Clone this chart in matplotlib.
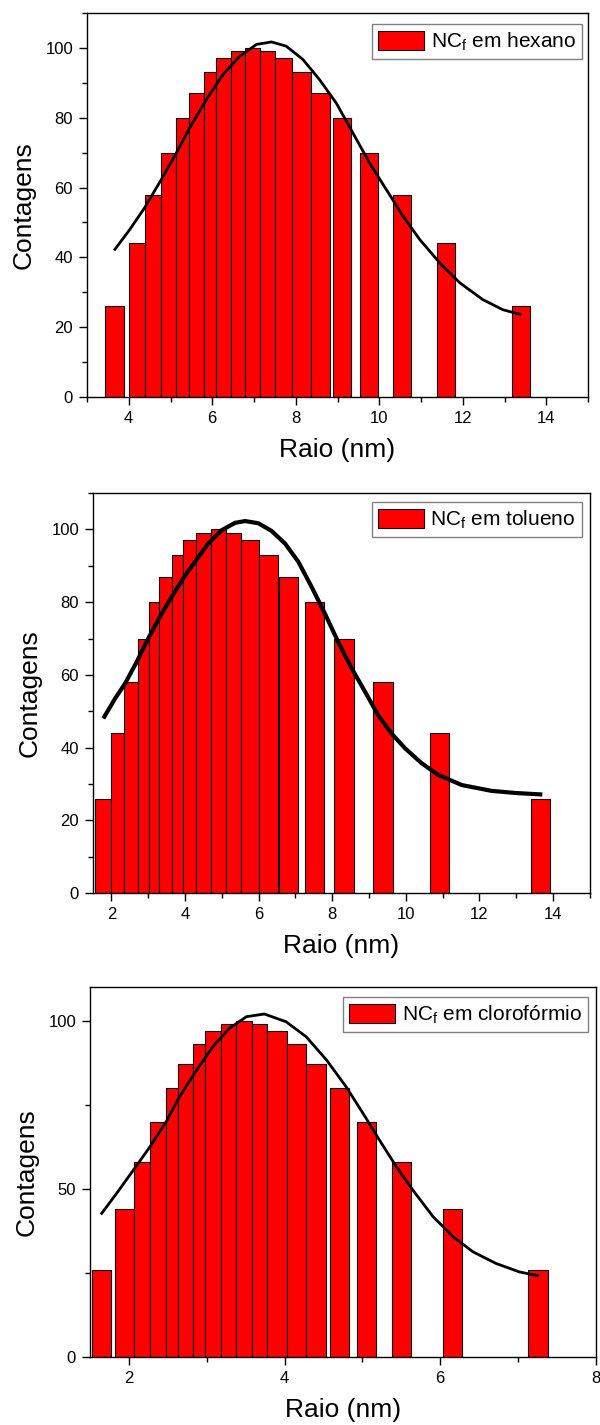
import numpy as np
import matplotlib
matplotlib.use("Agg")
import matplotlib.pyplot as plt
from matplotlib.ticker import MultipleLocator

plt.rcParams['font.family'] = ['Liberation Sans', 'DejaVu Sans']
plt.rcParams['mathtext.fontset'] = 'custom'
plt.rcParams['mathtext.rm'] = 'Liberation Sans'
plt.rcParams['mathtext.it'] = 'Liberation Sans:italic'

# counts are the same in the three histograms
counts = [26, 44, 58, 70, 80, 87, 93, 97, 99, 100, 99, 97, 93, 87, 80, 70, 58, 44, 26]

# hexano
hex_left = [3.44, 4.00, 4.38, 4.78, 5.14, 5.44, 5.80, 6.10, 6.44, 6.79, 7.15, 7.50, 7.92, 8.37, 8.89, 9.53, 10.33, 11.39, 13.19]
hex_right = [3.88, 4.38, 4.78, 5.14, 5.44, 5.80, 6.10, 6.44, 6.79, 7.15, 7.50, 7.92, 8.37, 8.83, 9.33, 9.97, 10.77, 11.82, 13.62]
hex_fit_x = [3.65, 4.02, 4.38, 4.78, 5.14, 5.46, 5.86, 6.26, 6.66, 7.06, 7.42, 7.77, 8.17, 8.57, 8.97, 9.37, 9.77,
             10.17, 10.57, 10.97, 11.45, 11.93, 12.48, 12.96, 13.40]
hex_fit_y = [42.0, 47.9, 54.2, 62.3, 69.9, 77.1, 85.2, 92.4, 97.6, 101.0, 101.7, 100.5, 96.7, 90.9, 84.2, 75.6, 67.0,
             59.4, 51.8, 45.1, 38.4, 32.7, 27.9, 25.0, 23.6]

# tolueno
tol_left = [1.55, 2.00, 2.34, 2.71, 3.01, 3.30, 3.64, 3.95, 4.30, 4.70, 5.11, 5.51, 6.02, 6.56, 7.25, 8.05, 9.11, 10.65, 13.41]
tol_right = [2.00, 2.34, 2.71, 3.01, 3.30, 3.64, 3.95, 4.30, 4.70, 5.11, 5.51, 6.02, 6.54, 7.08, 7.78, 8.58, 9.64, 11.18, 13.93]
tol_fit_x = [1.78, 2.10, 2.37, 2.69, 3.00, 3.32, 3.64, 3.95, 4.27, 4.63, 5.00, 5.36, 5.63, 5.99, 6.35, 6.72,
             7.08, 7.44, 7.80, 8.16, 8.53, 8.89, 9.25, 9.61, 9.98, 10.43, 10.88, 11.52, 12.33, 13.00, 13.71]
tol_fit_y = [48.0, 53.5, 57.6, 63.6, 70.0, 76.0, 81.5, 86.5, 91.1, 96.1, 99.8, 101.8, 102.3, 101.7, 99.6, 96.1,
             91.1, 84.2, 76.9, 69.1, 61.8, 55.4, 48.9, 43.9, 39.8, 35.7, 32.5, 29.7, 28.1, 27.5, 27.1]

# cloroformio
clo_left = [1.52, 1.82, 2.06, 2.27, 2.48, 2.63, 2.83, 2.98, 3.18, 3.38, 3.58, 3.78, 4.03, 4.28, 4.58, 4.93, 5.38, 6.03, 7.13]
clo_right = [1.77, 2.06, 2.27, 2.48, 2.63, 2.83, 2.98, 3.18, 3.38, 3.58, 3.78, 4.03, 4.28, 4.53, 4.83, 5.18, 5.63, 6.28, 7.39]
clo_fit_x = [1.64, 1.84, 2.07, 2.27, 2.48, 2.65, 2.87, 3.08, 3.29, 3.51, 3.74, 4.02, 4.28, 4.54, 4.79, 5.01,
             5.22, 5.44, 5.65, 5.91, 6.17, 6.42, 6.72, 7.02, 7.27]
clo_fit_y = [42.4, 48.6, 56.0, 62.5, 70.0, 77.4, 85.3, 92.3, 97.7, 101.2, 102.0, 99.7, 95.2, 88.3, 80.4, 72.4,
             64.5, 56.5, 49.6, 41.7, 35.7, 31.3, 27.8, 25.3, 24.1]

labels = ['NC$_\\mathrm{f}$ em hexano', 'NC$_\\mathrm{f}$ em tolueno', 'NC$_\\mathrm{f}$ em clorofórmio']

fig = plt.figure(figsize=(6, 14.25), dpi=100)

panels = [
    # rect, bins, fit, xlim, x major, y major, fit lw, legend anchor
    ([0.145, 0.7214, 0.835, 0.2695], hex_left, hex_right, hex_fit_x, hex_fit_y, (3, 15), 2, 20, 2.0, (0.988, 0.971)),
    ([0.155, 0.3733, 0.828, 0.2807], tol_left, tol_right, tol_fit_x, tol_fit_y, (1.5, 15), 2, 20, 3.0, (0.984, 0.9775)),
    ([0.150, 0.0477, 0.843, 0.2596], clo_left, clo_right, clo_fit_x, clo_fit_y, (1.5, 8), 2, 50, 2.0, (0.984, 0.973)),
]

for i, (rect, left, right, fx, fy, xlim, xmaj, ymaj, lw, anchor) in enumerate(panels):
    ax = fig.add_axes(rect)
    left = np.array(left)
    width = np.array(right) - left
    ax.bar(left, counts, width=width, align='edge', color='#ff0000', edgecolor='black',
           linewidth=0.8, label=labels[i], zorder=2)
    ax.plot(fx, fy, color='black', lw=lw, zorder=3, solid_joinstyle='round', solid_capstyle='butt')

    ax.set_xlim(*xlim)
    ax.set_ylim(0, 110)
    ax.xaxis.set_major_locator(MultipleLocator(xmaj))
    ax.xaxis.set_minor_locator(MultipleLocator(xmaj / 2))
    ax.yaxis.set_major_locator(MultipleLocator(ymaj))
    ax.yaxis.set_minor_locator(MultipleLocator(ymaj / 2))
    ax.tick_params(which='major', direction='out', length=6, width=1, labelsize=12, pad=4)
    ax.tick_params(which='minor', direction='out', length=3.5, width=1)
    for s in ax.spines.values():
        s.set_linewidth(1)

    ax.set_xlabel('Raio (nm)', fontsize=19, labelpad=9)
    ax.set_ylabel('Contagens', fontsize=19, labelpad=7)

    leg = ax.legend(loc='upper right', bbox_to_anchor=anchor, borderaxespad=0, fontsize=15,
                    fancybox=False, framealpha=1, edgecolor='#808080', handlelength=2.2,
                    handleheight=1.05, handletextpad=0.3, borderpad=0.3)
    leg.get_frame().set_linewidth(1)

fig.savefig('out.png', dpi=100)
